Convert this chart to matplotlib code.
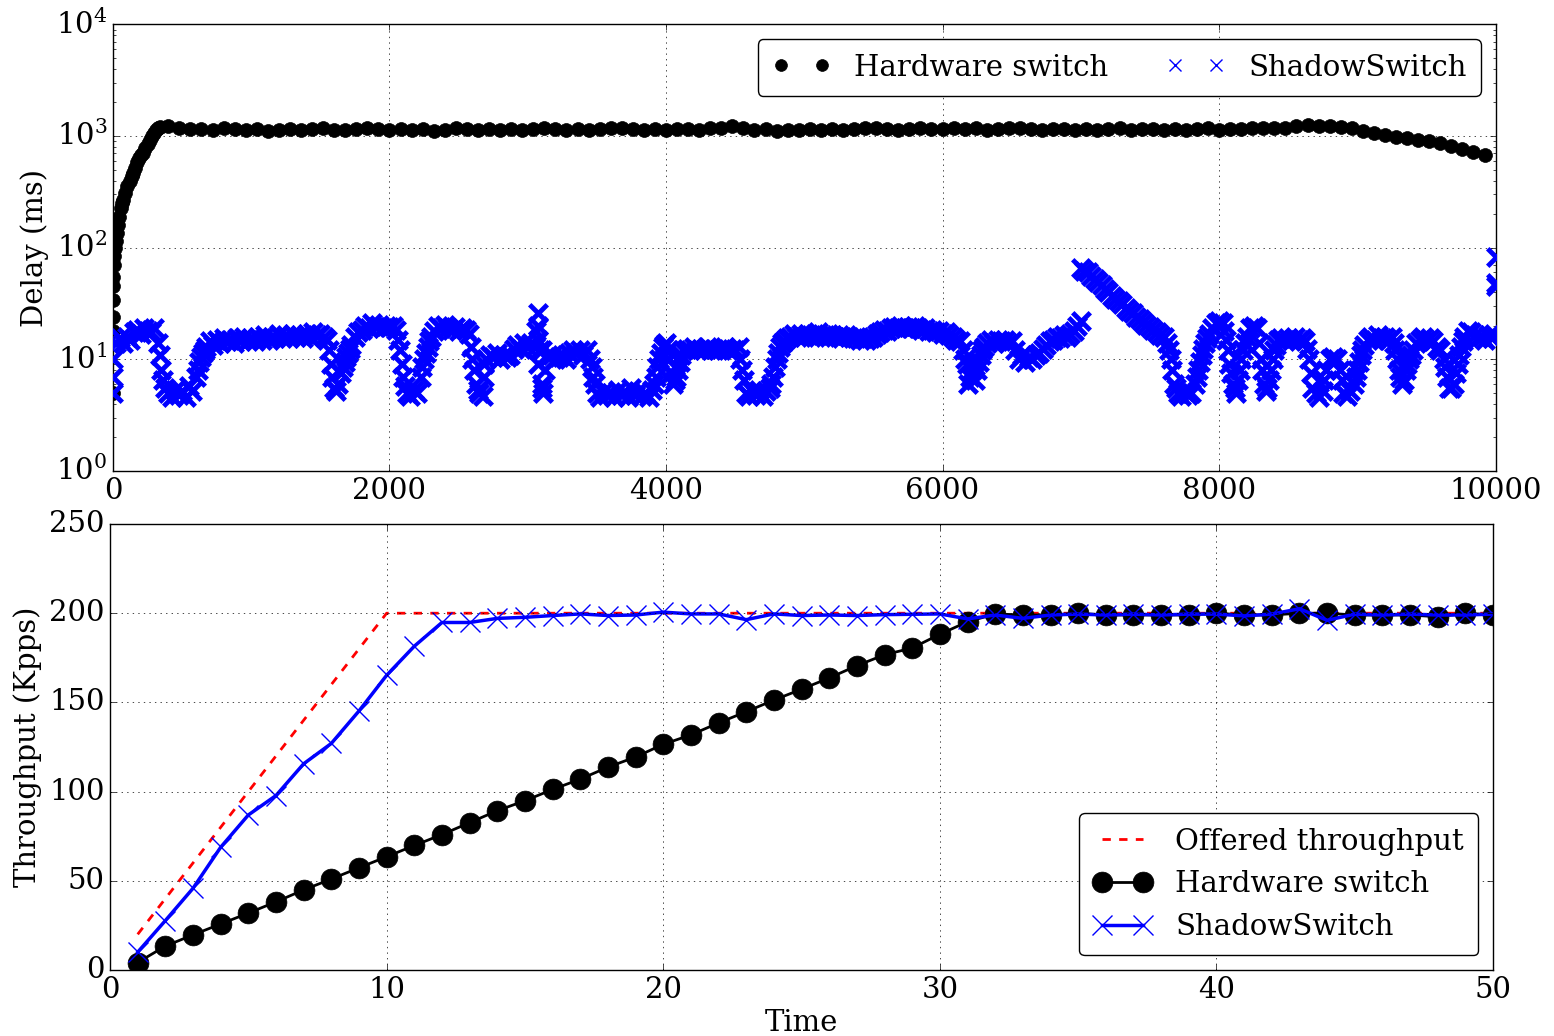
import numpy as np
import matplotlib
matplotlib.use('Agg')
import matplotlib.pyplot as plt

plt.style.use('classic')
plt.rcParams.update({
    'figure.facecolor': 'white',
    'savefig.facecolor': 'white',
    'font.family': 'serif',
    'font.serif': ['DejaVu Serif'],
    'mathtext.fontset': 'dejavuserif',
    'font.size': 21,
    'axes.labelsize': 21,
    'xtick.labelsize': 21,
    'ytick.labelsize': 21,
    'legend.fontsize': 21,
})

# ---- top panel: per-packet delay (ms) ----
# hardware switch, ramp at the start (x, delay)
hw_ramp_x = [0, 0, 0, 0, 0, 3, 6, 10, 15, 20, 27, 35, 45, 55, 65, 75, 90, 105, 120, 135,
             147, 160, 175, 190, 205, 219, 235, 250, 265, 280, 295, 310, 325, 340]
hw_ramp_y = [5, 18, 24, 34, 45, 55, 70, 85, 100, 115, 136, 160, 190, 225, 250, 270, 310, 360, 400, 440,
             470, 520, 580, 630, 670, 710, 780, 850, 920, 1000, 1070, 1130, 1170, 1200]
# hardware switch, steady part, one sample every 80 packets from 400
hw_flat_start = 400
hw_flat_step = 80
hw_flat_y = [
    1230, 1190, 1150, 1160, 1140, 1170, 1150, 1130, 1150, 1120,
    1140, 1160, 1130, 1150, 1170, 1140, 1130, 1160, 1180, 1150,
    1140, 1160, 1130, 1150, 1120, 1140, 1170, 1150, 1130, 1160,
    1140, 1150, 1130, 1160, 1180, 1150, 1140, 1160, 1130, 1150,
    1170, 1190, 1160, 1140, 1150, 1130, 1160, 1150, 1140, 1170,
    1190, 1220, 1180, 1130, 1150, 1120, 1140, 1130, 1150, 1140,
    1160, 1130, 1150, 1170, 1180, 1150, 1140, 1160, 1190, 1150,
    1160, 1180, 1150, 1170, 1140, 1160, 1190, 1170, 1150, 1140,
    1160, 1150, 1130, 1160, 1140, 1150, 1170, 1140, 1160, 1150,
    1140, 1160, 1130, 1150, 1170, 1140, 1150, 1160, 1180, 1170,
    1170, 1190, 1220, 1250, 1240, 1230, 1200, 1170, 1110, 1070,
    1020, 985, 955, 925, 900, 860, 820, 770, 720, 680,
]

# ShadowSwitch, one sample every 25 packets, one row per 1000 packets
ss_step = 25
ss_y = [
    5, 14, 15.5, 14, 16, 15, 17.5, 18.5, 17, 19,
    18, 17.5, 19, 14, 8, 5.5, 5, 4.6, 5.3, 4.8,
    5.2, 4.6, 5.8, 5.2, 7, 9.5, 11.5, 13, 14.5, 13.5,
    15, 14, 15.5, 14.5, 15, 14, 15.5, 14.5, 16, 14.5,

    15.5, 14.5, 16, 15, 16.5, 15, 16, 15.5, 17, 15.5,
    16.5, 15.5, 17, 16, 16.5, 15.5, 17, 16, 17.5, 16.5,
    17, 16, 15, 9, 5.5, 6, 7.5, 9.5, 11.5, 13.5,
    16, 17.5, 18.5, 20, 19, 21, 19.5, 20.5, 19, 20,

    19.5, 20, 18.5, 12, 7, 5, 4.7, 5.3, 5, 7,
    10, 13, 16, 18, 20, 19, 20.5, 19, 18.5, 19.5,
    18, 19, 18.5, 17, 10, 6, 5, 4.7, 10, 11,
    10.5, 11.5, 10, 11, 10.5, 11, 12.5, 13.5, 12.5, 14,

    13, 14, 13, 26, 6, 8, 10.5, 11, 10, 10.5,
    11, 10, 11.5, 12, 11.5, 12, 11, 12, 10, 7,
    5, 4.6, 5.2, 4.8, 5, 4.6, 5.3, 4.8, 5.1, 4.6,
    5.5, 4.8, 5.2, 4.7, 5, 4.6, 5.3, 7, 10, 13,

    14, 10, 6, 7, 9.5, 12, 12.5, 12, 13, 12,
    12.5, 12, 13, 12, 12.5, 12, 12.5, 13, 12, 12.5,
    12, 13, 8, 5, 4.7, 5.2, 4.8, 5.3, 4.7, 5.2,
    5.5, 7, 10, 13, 14.5, 15.5, 16, 17, 16, 17,

    16, 17, 16.5, 16, 17.5, 16.5, 16, 17, 16.5, 16,
    16.5, 15.5, 16.5, 16, 15.5, 16, 15, 15.5, 15, 15.5,
    16, 17, 17.5, 18.5, 18, 19, 19.5, 19, 20, 19,
    19.5, 19, 20, 19, 18.5, 19, 18, 18.5, 17.5, 18,

    17, 17.5, 16.5, 16, 15, 14.5, 12, 9, 7, 9.5,
    8, 11, 13, 14, 15, 14, 15, 14.5, 15, 14,
    14.5, 12, 10, 11, 9.5, 10.5, 10, 11, 11.5, 12.5,
    13.5, 14.5, 15, 16, 15.5, 16.5, 16, 17, 18, 20,

    66, 62, 60, 56, 52, 49, 46, 43, 40, 37,
    35, 33, 31, 29, 27, 26, 24, 23, 21.5, 20.5,
    19.5, 18.5, 17.5, 16.5, 16, 14, 10, 6, 5, 4.7,
    5.2, 4.8, 5, 6, 8, 11, 14, 17, 19, 21,

    22, 21, 15, 9, 6, 5, 8, 12, 16, 19,
    20, 19, 10, 6, 5.5, 8, 12, 15, 15.5, 14.5,
    15.5, 15, 16, 15, 15.5, 14.5, 10, 5.5, 5, 4.6,
    5.2, 8, 10, 10.5, 10, 8, 5, 4.7, 5.2, 6,

    8, 11, 13.5, 15, 16, 15, 16.5, 15.5, 16, 15,
    16, 12, 8, 6, 8, 10, 12, 14, 15, 16,
    15, 15.5, 14.5, 13, 12, 10, 7, 5.5, 6, 9,
    13, 16, 18, 17.5, 16.5, 15.5, 16, 15, 16.5, 15.5,
]
# extra ShadowSwitch samples in the steep transitions and the outliers at the end
ss_extra_x = [0, 0, 337, 362, 612, 637, 662,
              1562, 1587, 1612, 1662, 1687, 1712,
              2062, 2087, 2112, 2237, 2262, 2287,
              2587, 2612, 2637, 2687, 2687,
              3062, 3075, 3075, 3075, 3087, 3100, 3100, 3112,
              3462, 3487, 3912, 3937, 3962, 3987,
              4012, 4037, 4062, 4087, 4112,
              4537, 4562, 4762, 4787, 4812, 4837,
              6162, 6187, 6212, 6237, 6262, 6287, 7000,
              7637, 7662, 7687, 7837, 7862, 7887, 7912,
              8037, 8062, 8087, 8112, 8137, 8162, 8187,
              8287, 8312, 8337, 8362, 8387, 8412,
              8637, 8662, 8762, 8887, 8987, 9012, 9037,
              9262, 9287, 9312, 9337, 9362, 9387,
              9637, 9662, 9712, 9737, 9762, 9987,
              10000, 10000, 10000]
ss_extra_y = [10, 7, 11, 6.5, 8, 10.5, 12,
              12, 7, 5.2, 8.5, 10.5, 12.5,
              15, 9, 5.8, 8.5, 11.5, 14.5,
              13, 8, 5.3, 7, 9,
              18, 20, 15, 9, 12, 5.5, 12, 5,
              8.5, 6, 6, 8.5, 11.5, 13.5,
              12, 7.5, 6.5, 8, 11,
              10, 6.5, 6, 8.5, 11.5, 14,
              10, 6, 8, 6.5, 9.5, 12, 22,
              12, 8, 5.5, 7, 9.5, 12.5, 15.5,
              18, 12, 7.5, 5.5, 6.5, 10, 14,
              14, 8, 5.2, 6.5, 10, 13.5,
              12.5, 7.5, 6.5, 6.5, 7, 9.5, 12,
              14, 10, 7, 6.5, 9, 11,
              8.5, 5.5, 7.5, 11, 14.5, 17,
              83, 48, 45]

# ---- bottom panel: throughput (Kpps) ----
t = list(range(1, 51))
offered = [20, 40, 60, 80, 100, 120, 140, 160, 180, 200] + [200] * 40
hardware = [4.2, 13.4, 19.7, 25.8, 31.9, 38.2, 44.9, 51, 57.3, 63.5,
            69.8, 75.9, 82.6, 89.3, 94.9, 101.2, 107, 113.7, 119.4, 126.5,
            131.8, 138.5, 144.8, 151.3, 157.4, 163.7, 170.6, 176.7, 180.5, 188.2,
            195.2, 199.6, 199, 199, 200, 199, 199, 199, 199, 200,
            199, 199, 200, 200, 199, 199, 199, 198, 200, 199]
shadow = [10, 27.7, 45.8, 68.8, 86.9, 97.8, 115.6, 127, 145.2, 165.2,
          181.5, 194.8, 194.8, 197.1, 197.7, 198.7, 199.6, 198.7, 199, 200.6,
          199.6, 199.6, 196.4, 199.6, 198.7, 199, 198.7, 199.2, 199.4, 199.6,
          196.8, 199, 197.1, 199, 199.5, 199, 199.5, 199, 199.5, 199.5,
          198.5, 199.5, 202.5, 196, 199.5, 199, 199.5, 199, 199, 199.5]

hw_x = hw_ramp_x + [hw_flat_start + hw_flat_step * i for i in range(len(hw_flat_y))]
hw_y = hw_ramp_y + hw_flat_y
ss_x = [ss_step * i for i in range(len(ss_y))]

fig = plt.figure(figsize=(15.54, 10.36), dpi=100)
ax1 = fig.add_axes([0.0727, 0.5454, 0.8897, 0.431])
ax2 = fig.add_axes([0.0708, 0.0637, 0.890, 0.4305])

ax1.plot(hw_x, hw_y, 'ko', markersize=10, label='Hardware switch')
# scatter so every sample gets its own marker
ax1.scatter(ss_x + ss_extra_x, ss_y + ss_extra_y, marker='x', s=160, c='b',
            linewidths=3.5, zorder=3)
# legend proxy with thin crosses, as in the original legend
ax1.plot([], [], 'bx', markersize=8.5, mew=1.0, linestyle='none', label='ShadowSwitch')
ax1.set_yscale('log')
ax1.set_xlim(0, 10000)
ax1.set_ylim(1, 1e4)
ax1.set_ylabel('Delay (ms)')
ax1.grid(True)
leg1 = ax1.legend(loc='upper right', ncol=2, numpoints=2, fancybox=True,
                  borderpad=0.5, handletextpad=0.8, columnspacing=2.0)
leg1.legend_handles[0].set_markersize(8.5)

ax2.plot(t, offered, 'r--', lw=2, label='Offered throughput')
ax2.plot(t, hardware, 'ko-', lw=2, markersize=15, label='Hardware switch')
ax2.plot(t, shadow, 'bx-', lw=2.5, markersize=15, mew=1.0, label='ShadowSwitch')
ax2.set_xlim(0, 50)
ax2.set_ylim(0, 250)
ax2.set_xlabel('Time', labelpad=4)
ax2.set_ylabel('Throughput (Kpps)')
ax2.grid(True)
ax2.legend(loc='lower right', numpoints=2, fancybox=True, borderpad=0.5,
           handletextpad=0.8)

fig.savefig('out.png', dpi=100)
